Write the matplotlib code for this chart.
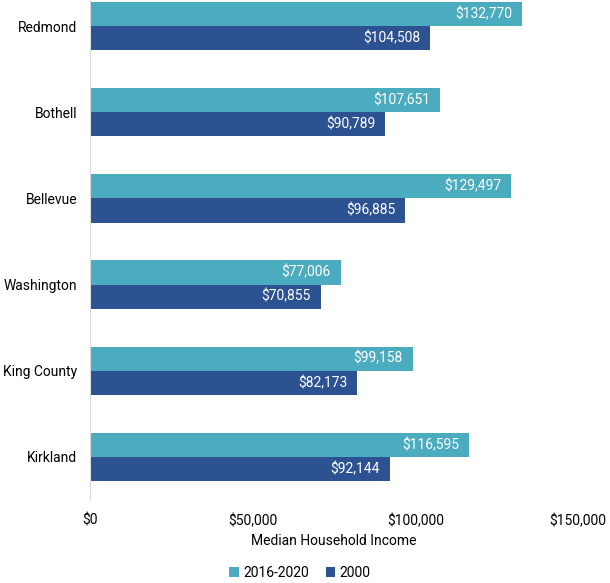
import matplotlib.pyplot as plt
import numpy as np

plt.rcParams['font.family'] = ['Roboto', 'DejaVu Sans']

places = ['Redmond', 'Bothell', 'Bellevue', 'Washington', 'King County', 'Kirkland']
income_2020 = [132770, 107651, 129497, 77006, 99158, 116595]
income_2000 = [104508, 90789, 96885, 70855, 82173, 92144]
series_names = ['2016-2020', '2000']
xticks = [0, 50000, 100000, 150000]

teal = '#4BACC0'
navy = '#2C5291'

fig = plt.figure(figsize=(6.1, 5.83), dpi=100)
ax = fig.add_axes([90 / 610, 83 / 583, 488 / 610, 517 / 583])

y = np.arange(len(places))
h = 0.28
b1 = ax.barh(y - h / 2, income_2020, height=h, color=teal, label=series_names[0])
b2 = ax.barh(y + h / 2, income_2000, height=h, color=navy, label=series_names[1])

for bars in (b1, b2):
    for bar in bars:
        w = bar.get_width()
        ax.annotate('${:,.0f}'.format(w), (w, bar.get_y() + bar.get_height() / 2),
                    xytext=(-7, 0), textcoords='offset points', ha='right', va='center',
                    color='white', fontsize=10)

ax.set_ylim(len(places) - 0.5, -0.5)
ax.set_xlim(0, 150000)
ax.set_yticks(y)
ax.set_yticklabels(places, fontsize=10)
ax.set_xticks(xticks)
ax.set_xticklabels(['${:,.0f}'.format(v) for v in xticks], fontsize=10)
ax.tick_params(axis='both', length=0)
ax.tick_params(axis='y', pad=9)
ax.tick_params(axis='x', pad=10)
ax.set_xlabel('Median Household Income', fontsize=10, labelpad=4)

for s in ['top', 'right', 'bottom']:
    ax.spines[s].set_visible(False)
ax.spines['left'].set_color('#D9D9D9')

fig.legend(loc='center', bbox_to_anchor=(300 / 610, 1 - 573 / 583), ncol=2, frameon=False,
           fontsize=10, handlelength=0.7, handleheight=0.7, handletextpad=0.3,
           columnspacing=1.2)

fig.savefig('out.png', dpi=100)
